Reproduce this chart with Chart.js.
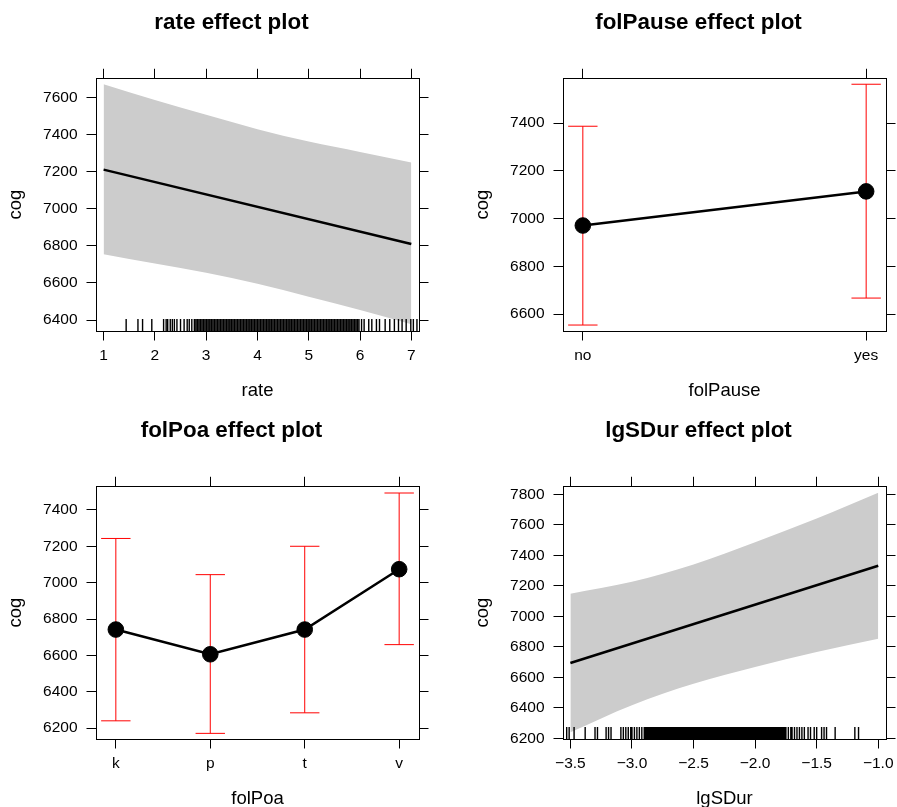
<!DOCTYPE html>
<html>
<head>
<meta charset="utf-8">
<script src="https://cdn.jsdelivr.net/npm/chart.js@4.4.1/dist/chart.umd.min.js"></script>
<style>
  html, body { margin: 0; padding: 0; background: #fff; }
  body { width: 897px; height: 807px; position: relative; overflow: hidden; }
  canvas { position: absolute; }
  #c1 { left: 0; top: 0; }
  #c2 { left: 467px; top: 0; }
  #c3 { left: 0; top: 408px; }
  #c4 { left: 467px; top: 408px; }
</style>
</head>
<body>
<canvas id="c1" width="463" height="403"></canvas>
<canvas id="c2" width="463" height="403"></canvas>
<canvas id="c3" width="463" height="403"></canvas>
<canvas id="c4" width="463" height="403"></canvas>
<script>
// ── Data ─────────────────────────────────────
// rate
const rateLineX = [1, 7];
const rateFit = [7210, 6810];
const rateBandX = [1, 2, 3, 4, 5, 6, 7];
const rateUpper = [7670, 7585, 7505, 7428, 7361, 7305, 7248];
const rateLower = [6755, 6705, 6655, 6596, 6526, 6454, 6378];
const rateRange = [0.852, 7.15];
const rateXTicks = [1, 2, 3, 4, 5, 6, 7];
const rateYRange = [6341, 7702];
const rateYTicks = [6400, 6600, 6800, 7000, 7200, 7400, 7600];
const rateRug = [
    1.44, 1.67, 1.76, 1.94, 2.17, 2.22, 2.25, 2.30, 2.34, 2.38, 2.43, 2.50, 2.57, 2.63, 2.67, 2.72, 2.77,
    2.80, 2.83, 2.86, 2.89, 2.92, 2.95, 2.98, 3.01, 3.04, 3.07, 3.10, 3.13, 3.16, 3.19, 3.22, 3.25,
    3.28, 3.31, 3.34, 3.37, 3.40, 3.43, 3.46, 3.49, 3.52, 3.55, 3.58, 3.61, 3.64, 3.67, 3.70, 3.73,
    3.76, 3.79, 3.82, 3.85, 3.88, 3.91, 3.94, 3.97, 4.00, 4.03, 4.06, 4.09, 4.12, 4.15, 4.18, 4.21,
    4.24, 4.27, 4.30, 4.33, 4.36, 4.39, 4.42, 4.45, 4.48, 4.51, 4.54, 4.57, 4.60, 4.63, 4.66, 4.69,
    4.72, 4.75, 4.78, 4.81, 4.84, 4.87, 4.90, 4.93, 4.96, 4.99, 5.02, 5.05, 5.08, 5.11, 5.14, 5.17,
    5.20, 5.23, 5.26, 5.29, 5.32, 5.35, 5.38, 5.41, 5.44, 5.47, 5.50, 5.53, 5.56, 5.59, 5.62, 5.65,
    5.68, 5.71, 5.74, 5.77, 5.80, 5.83, 5.86, 5.89, 5.92, 5.95, 5.98,
    6.03, 6.08, 6.17, 6.23, 6.32, 6.38, 6.49, 6.58, 6.67, 6.75, 6.82, 6.90, 6.99, 7.04, 7.11
];

// folPause
const pauseLevels = ['no', 'yes'];
const pauseFit = [6971, 7114];
const pauseLower = [6554, 6667];
const pauseUpper = [7387, 7563];
const pauseRange = [0.93, 2.07];
const pauseYRange = [6529, 7588];
const pauseYTicks = [6600, 6800, 7000, 7200, 7400];

// folPoa
const poaLevels = ['k', 'p', 't', 'v'];
const poaFit = [6742, 6606, 6742, 7074];
const poaLower = [6240, 6171, 6284, 6659];
const poaUpper = [7243, 7044, 7200, 7493];
const poaRange = [0.79, 4.21];
const poaYRange = [6140, 7530];
const poaYTicks = [6200, 6400, 6600, 6800, 7000, 7200, 7400];

// lgSDur
const durLineX = [-3.5, -1.0];
const durFit = [6694, 7332];
const durBandX = [-3.5, -3.0, -2.5, -2.0, -1.5, -1.0];
const durUpper = [7149, 7227, 7341, 7487, 7642, 7811];
const durLower = [6239, 6417, 6557, 6667, 6766, 6853];
const durRange = [-3.56, -0.937];
const durXTicks = [-3.5, -3.0, -2.5, -2.0, -1.5, -1.0];
const durYRange = [6195, 7854];
const durYTicks = [6200, 6400, 6600, 6800, 7000, 7200, 7400, 7600, 7800];
const durRug = [
    -3.53, -3.51, -3.47, -3.38, -3.30, -3.28, -3.21, -3.19, -3.17, -3.09, -3.07, -3.05, -3.03,
    -3.01, -3.00, -2.98, -2.96, -2.94, -2.92, -2.90,
    -2.89, -2.88, -2.87, -2.86, -2.85, -2.84, -2.83, -2.82, -2.81, -2.80, -2.79, -2.78, -2.77,
    -2.76, -2.75, -2.74, -2.73, -2.72, -2.71, -2.70, -2.69, -2.68, -2.67, -2.66, -2.65, -2.64,
    -2.63, -2.62, -2.61, -2.60, -2.59, -2.58, -2.57, -2.56, -2.55, -2.54, -2.53, -2.52, -2.51,
    -2.50, -2.49, -2.48, -2.47, -2.46, -2.45, -2.44, -2.43, -2.42, -2.41, -2.40, -2.39, -2.38,
    -2.37, -2.36, -2.35, -2.34, -2.33, -2.32, -2.31, -2.30, -2.29, -2.28, -2.27, -2.26, -2.25,
    -2.24, -2.23, -2.22, -2.21, -2.20, -2.19, -2.18, -2.17, -2.16, -2.15, -2.14, -2.13, -2.12,
    -2.11, -2.10, -2.09, -2.08, -2.07, -2.06, -2.05, -2.04, -2.03, -2.02, -2.01, -2.00, -1.99,
    -1.98, -1.97, -1.96, -1.95, -1.94, -1.93, -1.92, -1.91, -1.90, -1.89, -1.88, -1.87, -1.86,
    -1.85, -1.84, -1.83, -1.82, -1.81, -1.80, -1.79, -1.78, -1.77, -1.76, -1.75,
    -1.73, -1.71, -1.70, -1.68, -1.66, -1.64, -1.62, -1.60, -1.57, -1.55, -1.52, -1.50, -1.46,
    -1.44, -1.42, -1.35, -1.19, -1.16
];

// ── Helpers ──────────────────────────────────
const FONT = "'Liberation Sans', Arial, Helvetica, sans-serif";
const pts = (xs, ys) => xs.map((x, i) => ({ x, y: ys[i] }));

// rug marks along the bottom edge of the panel
const rugPlugin = {
    id: 'rug',
    afterDatasetsDraw(chart, args, opts) {
        if (!opts.values) return;
        const { ctx, chartArea: a, scales: { x } } = chart;
        ctx.save();
        ctx.strokeStyle = '#000';
        ctx.lineWidth = 1.4;
        ctx.beginPath();
        opts.values.forEach(v => {
            const px = x.getPixelForValue(v);
            ctx.moveTo(px, a.bottom);
            ctx.lineTo(px, a.bottom - 12);
        });
        ctx.stroke();
        ctx.restore();
    }
};

function axes(xr, yr, xTicks, yTicks, xLabel, xFmt) {
    const tickFont = { family: FONT, size: 15.5 };
    const grid = { drawOnChartArea: false, drawTicks: true, tickLength: 9.5, color: '#000', lineWidth: 1 };
    const border = { display: true, color: '#000', width: 1 };
    const setX = s => { s.ticks = xTicks.map(v => ({ value: v })); };
    const setY = s => { s.ticks = yTicks.map(v => ({ value: v })); };
    return {
        x: {
            type: 'linear', position: 'bottom', min: xr[0], max: xr[1],
            afterBuildTicks: setX, afterFit: s => { s.height = 72; },
            ticks: { color: '#000', font: tickFont, padding: 6, maxRotation: 0, autoSkip: false, callback: xFmt },
            grid, border,
            title: { display: true, text: xLabel, color: '#000', font: { family: FONT, size: 18.5 }, padding: { top: 0, bottom: 1.4 } },
        },
        x2: {
            type: 'linear', position: 'top', min: xr[0], max: xr[1],
            afterBuildTicks: setX, afterFit: s => { s.height = 9.5; },
            ticks: { display: false }, grid, border,
        },
        y: {
            type: 'linear', position: 'left', min: yr[0], max: yr[1],
            afterBuildTicks: setY, afterFit: s => { s.width = 96; },
            ticks: { color: '#000', font: tickFont, padding: 9, autoSkip: false, callback: v => String(v) },
            grid, border,
            title: { display: true, text: 'cog', color: '#000', font: { family: FONT, size: 18.5 }, padding: { top: 5, bottom: 0 } },
        },
        y2: {
            type: 'linear', position: 'right', min: yr[0], max: yr[1],
            afterBuildTicks: setY, afterFit: s => { s.width = 44; },
            ticks: { display: false }, grid, border,
        },
    };
}

function baseOptions(title, scales, rug) {
    return {
        responsive: false,
        animation: false,
        events: [],
        layout: { padding: 0 },
        plugins: {
            legend: { display: false },
            tooltip: { enabled: false },
            title: {
                display: true, text: title, color: '#000',
                font: { family: FONT, size: 22.4, weight: 'bold' },
                padding: { top: 9.8, bottom: 32.1 },
            },
            rug: { values: rug },
        },
        scales,
    };
}

function effectLine(xs, fit, bx, up, lo) {
    return [
        { data: pts(xs, fit), borderColor: '#000', borderWidth: 2.5, pointRadius: 0, fill: false },
        { data: pts(bx, up), borderColor: 'rgba(0,0,0,0)', borderWidth: 0, pointRadius: 0,
          backgroundColor: '#cccccc', fill: '+1', cubicInterpolationMode: 'monotone' },
        { data: pts(bx, lo), borderColor: 'rgba(0,0,0,0)', borderWidth: 0, pointRadius: 0,
          fill: false, cubicInterpolationMode: 'monotone' },
    ];
}

function effectFactor(levels, fit, lo, up) {
    const bars = levels.flatMap((_, i) => [
        { x: i + 1, y: lo[i] }, { x: i + 1, y: up[i] }, { x: i + 1, y: null },
    ]);
    return [
        { data: levels.map((_, i) => ({ x: i + 1, y: fit[i] })), borderColor: '#000', borderWidth: 2.5,
          pointRadius: 7.8, pointBackgroundColor: '#000', pointBorderColor: '#000', pointBorderWidth: 1, fill: false },
        { data: bars, borderColor: '#ff0000', borderWidth: 1, spanGaps: false, fill: false,
          pointStyle: 'line', pointRadius: 14.7, pointBorderColor: '#ff0000', pointBorderWidth: 1 },
    ];
}

// ── Panels ───────────────────────────────────
new Chart(document.getElementById('c1'), {
    type: 'line',
    data: { datasets: effectLine(rateLineX, rateFit, rateBandX, rateUpper, rateLower) },
    options: baseOptions('rate effect plot',
        axes(rateRange, rateYRange, rateXTicks, rateYTicks, 'rate', v => String(v)), rateRug),
    plugins: [rugPlugin],
});

new Chart(document.getElementById('c2'), {
    type: 'line',
    data: { datasets: effectFactor(pauseLevels, pauseFit, pauseLower, pauseUpper) },
    options: baseOptions('folPause effect plot',
        axes(pauseRange, pauseYRange, [1, 2], pauseYTicks, 'folPause', v => pauseLevels[v - 1]), null),
    plugins: [rugPlugin],
});

new Chart(document.getElementById('c3'), {
    type: 'line',
    data: { datasets: effectFactor(poaLevels, poaFit, poaLower, poaUpper) },
    options: baseOptions('folPoa effect plot',
        axes(poaRange, poaYRange, [1, 2, 3, 4], poaYTicks, 'folPoa', v => poaLevels[v - 1]), null),
    plugins: [rugPlugin],
});

new Chart(document.getElementById('c4'), {
    type: 'line',
    data: { datasets: effectLine(durLineX, durFit, durBandX, durUpper, durLower) },
    options: baseOptions('lgSDur effect plot',
        axes(durRange, durYRange, durXTicks, durYTicks, 'lgSDur', v => v.toFixed(1).replace('-', '\u2212')), durRug),
    plugins: [rugPlugin],
});
</script>
</body>
</html>
